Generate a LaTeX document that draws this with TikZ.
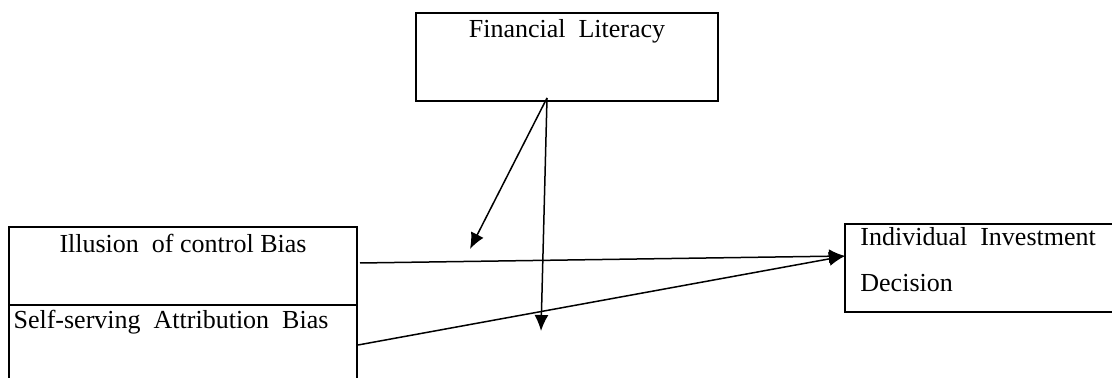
\documentclass[tikz,border=0pt]{standalone}
\usepackage{fontspec}
\setmainfont{Liberation Serif}
\usetikzlibrary{arrows.meta}

\begin{document}
\begin{tikzpicture}[x=0.5pt, y=-0.5pt,
    box/.style={draw, line width=0.8pt, inner sep=0pt},
    lbl/.style={font=\fontsize{13}{15}\selectfont, inner sep=0pt},
    arr/.style={line width=0.75pt, -{Latex[length=8pt, width=7pt]}}]
        % Canvas
        \clip (0,0) rectangle (1112,378);
        \fill[white] (0,0) rectangle (1112,378);

        % Boxes
        \node[box, minimum width=151pt, minimum height=44pt] (fl) at (567,57) {};
        \node[box, minimum width=174pt, minimum height=39pt] (ic) at (183,266) {};
        \node[box, minimum width=174pt, minimum height=47.5pt] (ss) at (183,352.5) {};
        \node[box, minimum width=142.5pt, minimum height=44pt] (id) at (987.5,268) {};

        % Labels
        \node[lbl] (flt) at (567,31) {Financial\ \ Literacy};
        \node[lbl] (ict) at (183,243) {Illusion\ \ of control Bias};
        \node[lbl] (sst) at (171,322) {Self-serving\ \ Attribution\ \ Bias};
        \node[lbl, anchor=west] (idt1) at (860,237) {Individual\ \ Investment};
        \node[lbl, anchor=west] (idt2) at (860,283) {Decision};

        % Arrow ends
        \coordinate (fls) at (547,98);
        \coordinate (m1) at (470,249);
        \coordinate (m2) at (541,331);
        \coordinate (ics) at (360,263);
        \coordinate (sss) at (358,345);
        \coordinate (idw) at (845,256);

        % Arrows
        \draw[arr] (fls) -- (m1);
        \draw[arr] (fls) -- (m2);
        \draw[arr] (ics) -- (idw);
        \draw[arr] (sss) -- (idw);
    \end{tikzpicture}
\end{document}
